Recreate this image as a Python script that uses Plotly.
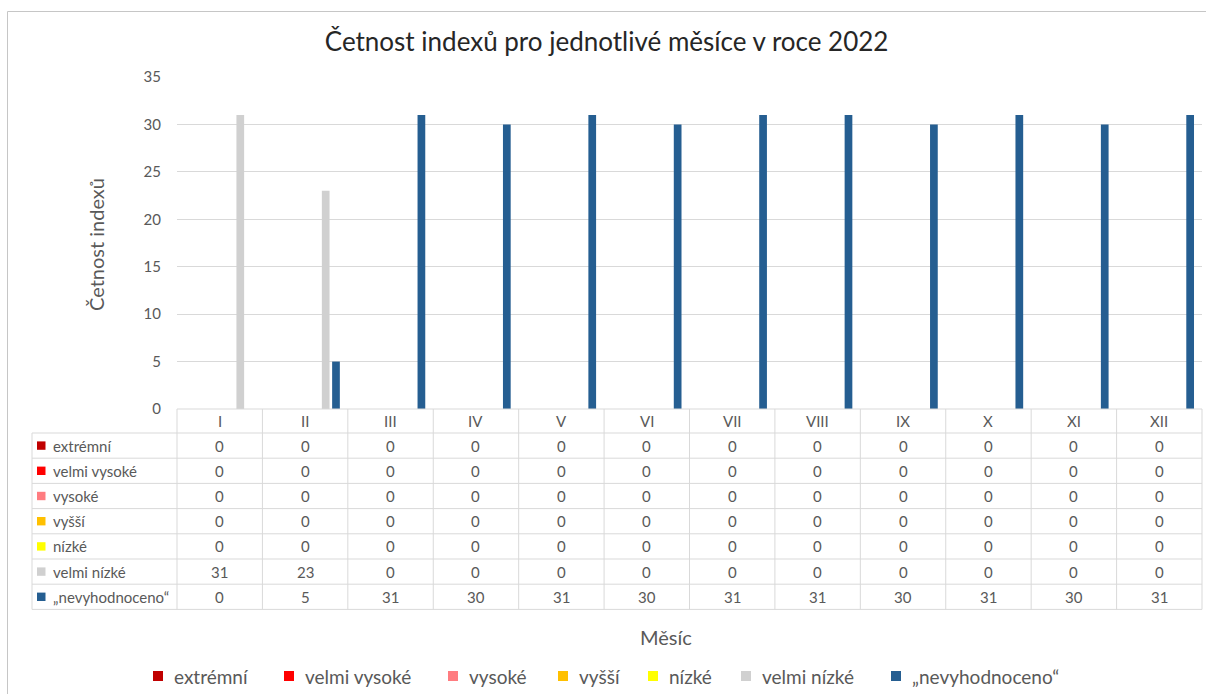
import plotly.graph_objects as go

# Months (Roman numerals) and daily index counts per category
months = ["I", "II", "III", "IV", "V", "VI", "VII", "VIII", "IX", "X", "XI", "XII"]

extremni = [0] * 12
velmi_vysoke = [0] * 12
vysoke = [0] * 12
vyssi = [0] * 12
nizke = [0] * 12
velmi_nizke = [31, 23, 0, 0, 0, 0, 0, 0, 0, 0, 0, 0]
nevyhodnoceno = [0, 5, 31, 30, 31, 30, 31, 31, 30, 31, 30, 31]

series_names = ["extrémní", "velmi vysoké", "vysoké", "vyšší", "nízké", "velmi nízké", "„nevyhodnoceno“"]
series_values = [extremni, velmi_vysoke, vysoke, vyssi, nizke, velmi_nizke, nevyhodnoceno]
series_colors = ["#C00000", "#FF0000", "#FF7C80", "#FFC000", "#FFFF00", "#D0D0D0", "#255E91"]

y_ticks = [0, 5, 10, 15, 20, 25, 30, 35]

W, H = 1206, 694
L, R, T, B = 177, 4, 77, 285
PW, PH = W - L - R, H - T - B

FONT = "Lato"
GREY = "#595959"
LINE = "#D9D9D9"


def px(xp):
    """Pixel column -> paper x."""
    return (xp - L) / PW


def py(yp):
    """Pixel row -> paper y."""
    return (H - B - yp) / PH


fig = go.Figure()
for name, vals, col in zip(series_names, series_values, series_colors):
    fig.add_trace(go.Bar(x=months, y=vals, name=name, marker=dict(color=col, line=dict(width=0)),
                         showlegend=False))

shapes = []
annotations = []

# Data table below the plot area
row_top = 409
header_bottom = 433
row_h = 25.2
table_left = 32
table_right = L + PW
n_rows = len(series_names)
table_bottom = header_bottom + row_h * n_rows
cell_font = dict(family=FONT, size=15, color=GREY)

line_style = dict(color=LINE, width=1)
# horizontal lines
shapes.append(dict(type="line", xref="paper", yref="paper", x0=0, x1=px(table_right),
                   y0=py(row_top), y1=py(row_top), line=line_style))
for r in range(n_rows + 1):
    yy = header_bottom + r * row_h
    shapes.append(dict(type="line", xref="paper", yref="paper", x0=px(table_left), x1=px(table_right),
                       y0=py(yy), y1=py(yy), line=line_style))
# vertical lines
shapes.append(dict(type="line", xref="paper", yref="paper", x0=px(table_left), x1=px(table_left),
                   y0=py(header_bottom), y1=py(table_bottom), line=line_style))
for c in range(len(months) + 1):
    xx = c / len(months)
    shapes.append(dict(type="line", xref="paper", yref="paper", x0=xx, x1=xx,
                       y0=py(row_top), y1=py(table_bottom), line=line_style))

# header row: month labels
for m in months:
    annotations.append(dict(x=m, xref="x", y=py((row_top + header_bottom) / 2), yref="paper",
                            text=m, showarrow=False, xanchor="center", yanchor="middle",
                            font=cell_font))

# series rows
for r, (name, vals, col) in enumerate(zip(series_names, series_values, series_colors)):
    yc = header_bottom + row_h * (r + 0.5)
    shapes.append(dict(type="rect", xref="paper", yref="paper", x0=px(37), x1=px(45.5),
                       y0=py(yc - 4.2), y1=py(yc + 4.2), fillcolor=col, line=dict(width=0)))
    annotations.append(dict(x=px(51), xref="paper", y=py(yc), yref="paper", text=name,
                            showarrow=False, xanchor="left", yanchor="middle", font=cell_font))
    for m, v in zip(months, vals):
        annotations.append(dict(x=m, xref="x", y=py(yc), yref="paper", text=str(v),
                                showarrow=False, xanchor="center", yanchor="middle",
                                font=cell_font))

# axis titles
annotations.append(dict(x=px(96), xref="paper", y=py(245), yref="paper", text="Četnost indexů",
                        textangle=-90, showarrow=False, xanchor="center", yanchor="middle",
                        font=dict(family=FONT, size=20, color=GREY)))
annotations.append(dict(x=px(666), xref="paper", y=py(637), yref="paper", text="Měsíc",
                        showarrow=False, xanchor="center", yanchor="middle",
                        font=dict(family=FONT, size=20, color=GREY)))

# bottom legend
legend_text_x = [172, 303, 467, 577, 667, 760, 910]
legend_y = 676
for name, col, tx in zip(series_names, series_colors, legend_text_x):
    shapes.append(dict(type="rect", xref="paper", yref="paper", x0=px(tx - 19), x1=px(tx - 9),
                       y0=py(legend_y - 5), y1=py(legend_y + 5), fillcolor=col, line=dict(width=0)))
    annotations.append(dict(x=px(tx), xref="paper", y=py(legend_y), yref="paper", text=name,
                            showarrow=False, xanchor="left", yanchor="middle",
                            font=dict(family=FONT, size=19, color=GREY)))

# chart frame
shapes.append(dict(type="rect", xref="paper", yref="paper", x0=px(7.5), x1=px(1220),
                   y0=py(11.5), y1=py(710), line=dict(color="#C6C6C6", width=1),
                   fillcolor="rgba(0,0,0,0)"))

fig.update_layout(
    width=W, height=H,
    margin=dict(l=L, r=R, t=T, b=B),
    paper_bgcolor="white", plot_bgcolor="white",
    barmode="group", bargap=0.157, bargroupgap=0.25,
    title=dict(text="Četnost indexů pro jednotlivé měsíce v roce 2022",
               x=0.503, xref="container", xanchor="center",
               y=1 - 42 / H, yref="container", yanchor="middle",
               font=dict(family=FONT, size=26, color="#262626")),
    xaxis=dict(showticklabels=False, showgrid=False, zeroline=False, showline=False, ticks=""),
    yaxis=dict(range=[0, 35], tickvals=y_ticks, showgrid=True, gridcolor=LINE, gridwidth=1,
               zeroline=False, showline=False, ticks="", ticklabelstandoff=15,
               tickfont=dict(family=FONT, size=15, color=GREY)),
    shapes=shapes,
    annotations=annotations,
    showlegend=False,
)

fig.write_html("out.html")
